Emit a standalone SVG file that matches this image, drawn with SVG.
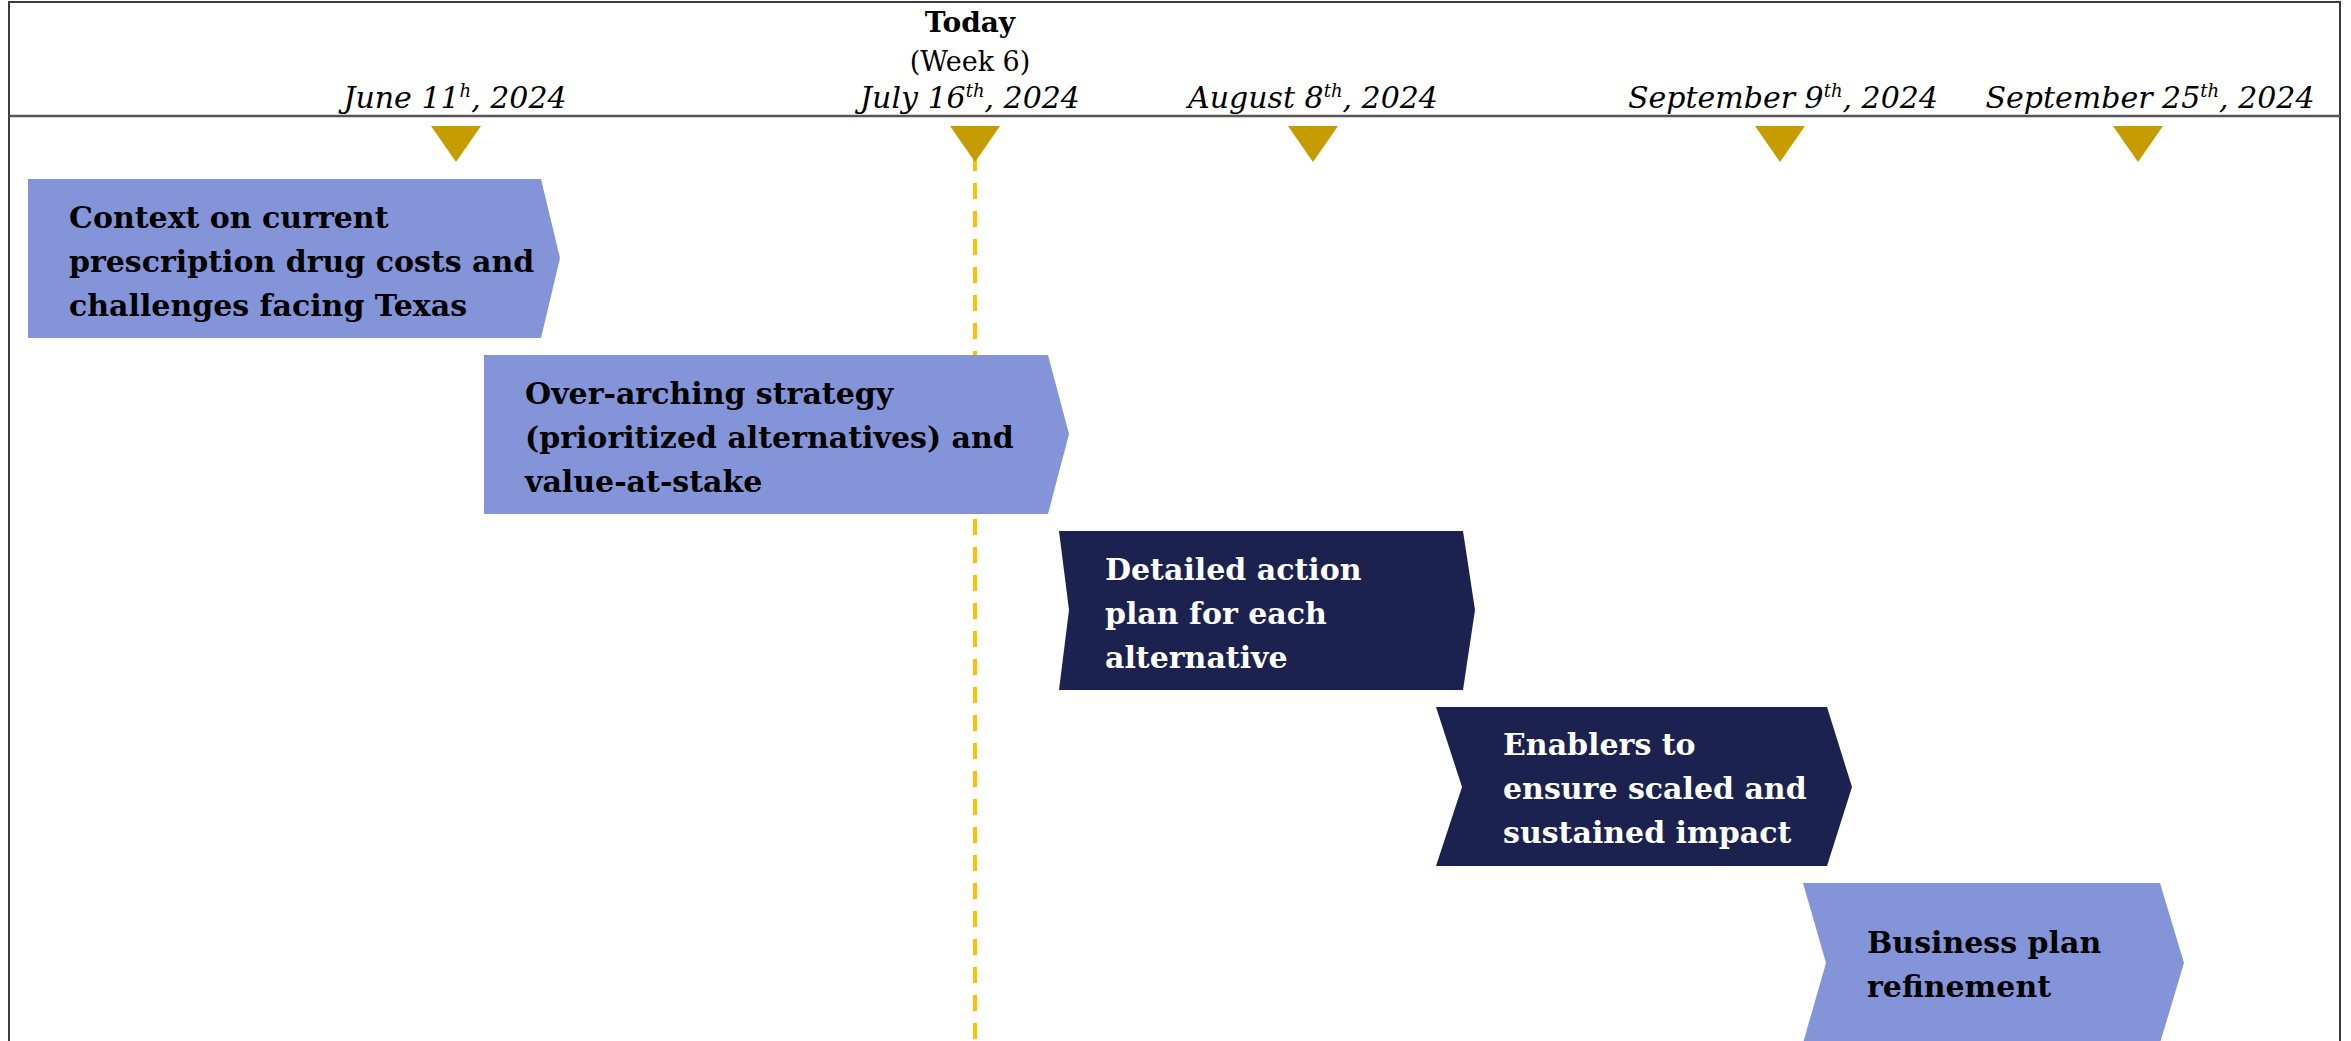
<svg xmlns="http://www.w3.org/2000/svg" width="2351" height="1041" viewBox="0 0 2351 1041">
  <style>
    .frame { fill: none; stroke: #3c3c3c; stroke-width: 2; }
    .rule { stroke: #555555; stroke-width: 2.5; }
    .milestone { fill: #C69C00; }
    .today-line { stroke: #FFC000; stroke-width: 4; stroke-dasharray: 16 12; fill: none; }
    .date { font-family: "DejaVu Serif", "Liberation Serif", serif; font-style: italic; font-size: 30px; fill: #000; text-anchor: middle; }
    .sup { font-size: 18px; }
    .today { font-family: "DejaVu Serif", "Liberation Serif", serif; font-weight: bold; font-size: 28px; fill: #000; text-anchor: middle; }
    .week { font-family: "DejaVu Serif", "Liberation Serif", serif; font-size: 27px; fill: #000; text-anchor: middle; }
    .light { fill: #8494D8; }
    .dark { fill: #1B2250; }
    .label { font-family: "DejaVu Serif", "Liberation Serif", serif; font-weight: bold; font-size: 30px; }
    .on-light { fill: #000; }
    .on-dark { fill: #FFFFFF; }
  </style>

  <!-- outer frame and header rule -->
  <rect class="frame" x="9" y="2" width="2331" height="1060"/>
  <line class="rule" x1="9" y1="116" x2="2340" y2="116"/>

  <!-- header: today marker -->
  <g id="today-header">
    <text class="today" x="970" y="32">Today</text>
    <text class="week" x="970" y="71">(Week 6)</text>
  </g>

  <!-- vertical "today" guide, drawn behind the phases -->
  <g id="connectors">
    <line class="today-line" x1="975" y1="155" x2="975" y2="1041"/>
  </g>

  <!-- milestone dates with their markers -->
  <g id="milestone-jun11">
    <text class="date" x="455" y="108">June 11<tspan class="sup" dy="-11">h</tspan><tspan dy="11">, 2024</tspan></text>
    <polygon class="milestone" points="431,126 481,126 456,162"/>
  </g>
  <g id="milestone-jul16">
    <text class="date" x="970" y="108">July 16<tspan class="sup" dy="-11">th</tspan><tspan dy="11">, 2024</tspan></text>
    <polygon class="milestone" points="950,126 1000,126 975,162"/>
  </g>
  <g id="milestone-aug8">
    <text class="date" x="1313" y="108">August 8<tspan class="sup" dy="-11">th</tspan><tspan dy="11">, 2024</tspan></text>
    <polygon class="milestone" points="1288,126 1338,126 1313,162"/>
  </g>
  <g id="milestone-sep9">
    <text class="date" x="1783" y="108">September 9<tspan class="sup" dy="-11">th</tspan><tspan dy="11">, 2024</tspan></text>
    <polygon class="milestone" points="1755,126 1805,126 1780,162"/>
  </g>
  <g id="milestone-sep25">
    <text class="date" x="2150" y="108">September 25<tspan class="sup" dy="-11">th</tspan><tspan dy="11">, 2024</tspan></text>
    <polygon class="milestone" points="2113,126 2163,126 2138,162"/>
  </g>

  <!-- phases -->
  <g id="phase-context">
    <polygon class="light" points="28,179 541,179 560,258 541,338 28,338"/>
    <text class="label on-light">
      <tspan x="69" y="228">Context on current</tspan>
      <tspan x="69" y="272">prescription drug costs and</tspan>
      <tspan x="69" y="316">challenges facing Texas</tspan>
    </text>
  </g>

  <g id="phase-strategy">
    <polygon class="light" points="484,355 1048,355 1069,434 1048,514 484,514"/>
    <text class="label on-light">
      <tspan x="525" y="404">Over-arching strategy</tspan>
      <tspan x="525" y="448">(prioritized alternatives) and</tspan>
      <tspan x="525" y="492">value-at-stake</tspan>
    </text>
  </g>

  <g id="phase-action-plan">
    <polygon class="dark" points="1059,531 1463,531 1475,610 1463,690 1059,690 1069,610"/>
    <text class="label on-dark">
      <tspan x="1105" y="580">Detailed action</tspan>
      <tspan x="1105" y="624">plan for each</tspan>
      <tspan x="1105" y="668">alternative</tspan>
    </text>
  </g>

  <g id="phase-enablers">
    <polygon class="dark" points="1436,707 1827,707 1852,787 1827,866 1436,866 1462,787"/>
    <text class="label on-dark">
      <tspan x="1503" y="755">Enablers to</tspan>
      <tspan x="1503" y="799">ensure scaled and</tspan>
      <tspan x="1503" y="843">sustained impact</tspan>
    </text>
  </g>

  <g id="phase-business-plan">
    <polygon class="light" points="1803,883 2160,883 2184,963 2160,1043 1803,1043 1826,963"/>
    <text class="label on-light">
      <tspan x="1867" y="953">Business plan</tspan>
      <tspan x="1867" y="997">refinement</tspan>
    </text>
  </g>
</svg>
